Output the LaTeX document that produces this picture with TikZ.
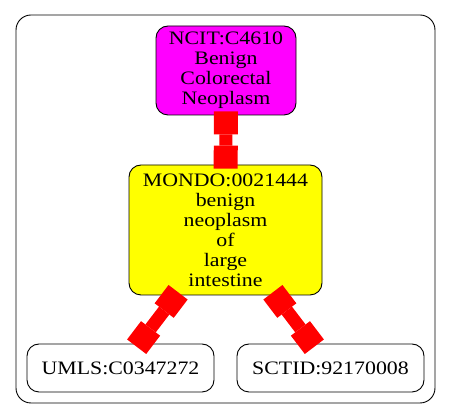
\documentclass[tikz,border=0pt]{standalone}
\usepackage{fontspec}
\setmainfont{Liberation Serif}[FakeStretch=1.15]
\usepackage{tikz}
\usetikzlibrary{arrows.meta}
\definecolor{ncitfill}{RGB}{255,0,255}
\definecolor{mondofill}{RGB}{255,255,0}
\definecolor{linkred}{RGB}{255,0,0}

\begin{document}
\begin{tikzpicture}[x=1pt,y=-1pt,
term/.style={rectangle,draw,rounded corners=12pt,line width=0.9pt,
  align=center,inner sep=0pt,font=\fontsize{19}{20}\selectfont},
link/.style={draw=linkred,line width=13pt,
  {Square[length=23pt,width=24pt,line width=0pt]}-{Square[length=23pt,width=24pt,line width=0pt]},
  shorten <=-4pt,shorten >=-4pt},
]
\useasboundingbox (0,0) rectangle (451,419);
\draw[rounded corners=15pt,line width=0.9pt] (16,15) rectangle (435,403);
\node[term,fill=ncitfill,minimum width=140pt,minimum height=89pt] (ncit) at (226,70.5)
  {NCIT:C4610\\Benign\\Colorectal\\Neoplasm};
\node[term,fill=mondofill,minimum width=193pt,minimum height=130pt] (mondo) at (225.5,230)
  {MONDO:0021444\\benign\\neoplasm\\of\\large\\intestine};
\node[term,minimum width=187pt,minimum height=48pt] (umls) at (120.5,368) {UMLS:C0347272};
\node[term,minimum width=187pt,minimum height=48pt] (sctid) at (330.5,368) {SCTID:92170008};
\draw[link] (ncit) -- (mondo);
\draw[link] (mondo) -- (umls);
\draw[link] (mondo) -- (sctid);
\end{tikzpicture}
\end{document}
